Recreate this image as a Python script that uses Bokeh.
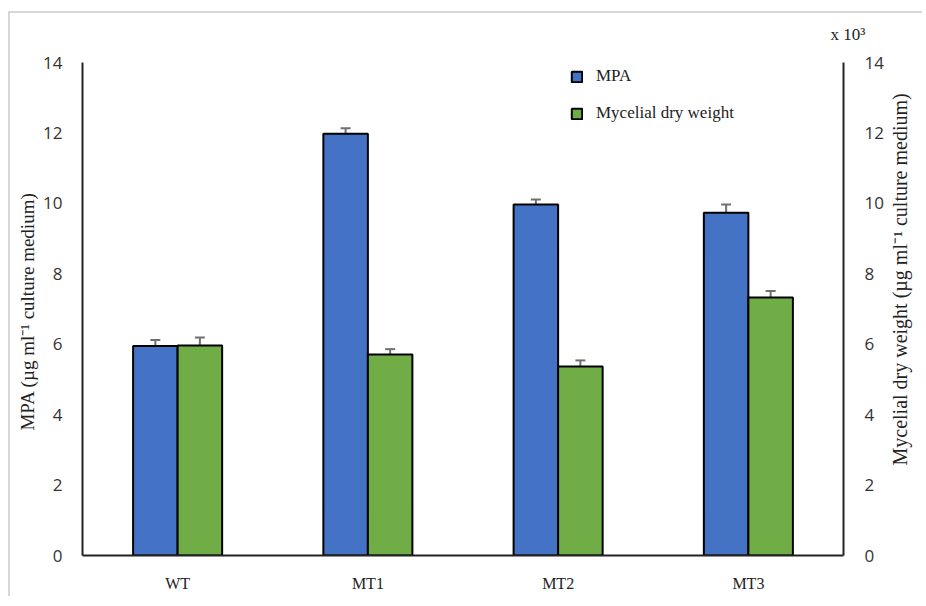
import math
from bokeh.plotting import figure
from bokeh.models import (ColumnDataSource, FactorRange, Range1d, LinearAxis, FixedTicker,
                          Whisker, TeeHead, Legend, LegendItem, Title)
from bokeh.transform import dodge
from bokeh.embed import file_html
from bokeh.resources import INLINE

# ---- data ----
strains = ["WT", "MT1", "MT2", "MT3"]
mpa = [5.95, 11.98, 9.97, 9.73]
mpa_err = [0.17, 0.15, 0.14, 0.24]
dry_weight = [5.96, 5.71, 5.37, 7.33]
dry_weight_err = [0.23, 0.15, 0.17, 0.18]
y_ticks = [0, 2, 4, 6, 8, 10, 12, 14]

BLUE = "#4472C4"
GREEN = "#70AD47"
ERR = "#707070"

src = ColumnDataSource(dict(
    cat=strains,
    mpa=mpa,
    mpa_up=[v + e for v, e in zip(mpa, mpa_err)],
    mpa_lo=[v - e for v, e in zip(mpa, mpa_err)],
    dw=dry_weight,
    dw_up=[v + e for v, e in zip(dry_weight, dry_weight_err)],
    dw_lo=[v - e for v, e in zip(dry_weight, dry_weight_err)],
))

p = figure(width=914, height=585, output_backend="svg", toolbar_location=None,
           x_range=FactorRange(factors=strains, range_padding=0),
           y_range=Range1d(0, 14),
           min_border_left=72, min_border_right=72, min_border_top=49, min_border_bottom=43,
           styles={"border-left": "2px solid #d6d6d6", "border-top": "2px solid #d6d6d6",
                   "margin-top": "11px", "margin-left": "8px"})
p.outline_line_color = None
p.xgrid.grid_line_color = None
p.ygrid.grid_line_color = None
p.extra_y_ranges = {"right": Range1d(0, 14)}

off = 0.117
bw = 0.234
r1 = p.vbar(x=dodge("cat", -off, range=p.x_range), top="mpa", width=bw, source=src,
            fill_color=BLUE, line_color="black", line_width=2)
r2 = p.vbar(x=dodge("cat", off, range=p.x_range), top="dw", width=bw, source=src,
            fill_color=GREEN, line_color="black", line_width=2)

for base_off, up, lo in [(-off, "mpa_up", "mpa_lo"), (off, "dw_up", "dw_lo")]:
    w = Whisker(source=src, base=dodge("cat", base_off, range=p.x_range), upper=up, lower=lo,
                line_color=ERR, line_width=2,
                upper_head=TeeHead(size=10, line_color=ERR, line_width=2),
                lower_head=TeeHead(size=10, line_color=ERR, line_width=2))
    p.add_layout(w)

# left axis
ax = p.yaxis[0]
ax.ticker = FixedTicker(ticks=y_ticks)
ax.major_tick_line_color = None
ax.minor_tick_line_color = None
ax.axis_line_color = "#222222"
ax.axis_line_width = 2
ax.major_label_text_font = "Open Sans"
ax.major_label_text_font_size = "17px"
ax.major_label_text_color = "#333333"
ax.major_label_standoff = 14
ax.axis_label = "MPA (\u00b5g ml\u207b\u00b9  culture medium)"
ax.axis_label_text_font = "Liberation Serif"
ax.axis_label_text_font_style = "normal"
ax.axis_label_text_font_size = "19px"
ax.axis_label_text_color = "#222222"
ax.axis_label_standoff = 2

# right axis (label reads bottom-to-top, starting near the "4" tick)
rax = LinearAxis(y_range_name="right", ticker=FixedTicker(ticks=y_ticks))
rax.major_tick_line_color = None
rax.minor_tick_line_color = None
rax.axis_line_color = "#222222"
rax.axis_line_width = 2
rax.major_label_text_font = "Open Sans"
rax.major_label_text_font_size = "17px"
rax.major_label_text_color = "#333333"
rax.major_label_standoff = 15
rax.axis_label_orientation = math.pi / 2
if "axis_label_align" in rax.properties():
    rax.axis_label_align = "start"
    rax.axis_label = "\u00a0" * 18 + "Mycelial dry weight  (\u00b5g ml\u207b\u00b9  culture medium)"
else:
    rax.axis_label = "Mycelial dry weight  (\u00b5g ml\u207b\u00b9  culture medium)"
    rax.axis_label_orientation = "parallel"
rax.axis_label_text_font = "Liberation Serif"
rax.axis_label_text_font_style = "normal"
rax.axis_label_text_font_size = "20px"
rax.axis_label_text_color = "#222222"
rax.axis_label_standoff = 13
p.add_layout(rax, "right")

# bottom axis
xa = p.xaxis[0]
xa.major_tick_line_color = None
xa.minor_tick_line_color = None
xa.axis_line_color = "#222222"
xa.axis_line_width = 2
xa.major_label_text_font = "Liberation Serif"
xa.major_label_text_font_size = "16px"
xa.major_label_text_color = "#222222"
xa.major_label_standoff = 13

# scale note at the top right (second empty line lifts it above the frame)
note = Title(text="x 10\u00b3\n\u00a0", align="left", offset=748, standoff=0,
             text_font="Liberation Serif", text_font_size="17px",
             text_font_style="normal", text_color="#222222")
p.add_layout(note, "above")

legend = Legend(items=[LegendItem(label="MPA", renderers=[r1]),
                       LegendItem(label="Mycelial dry weight", renderers=[r2])],
                location=(488, 432), orientation="vertical")
legend.background_fill_alpha = 0
legend.border_line_alpha = 0
legend.padding = 0
legend.margin = 0
legend.spacing = 17
legend.label_height = 20
legend.glyph_height = 13
legend.glyph_width = 13
legend.label_standoff = 13
legend.label_text_font = "Liberation Serif"
legend.label_text_font_size = "17px"
legend.label_text_color = "#222222"
p.add_layout(legend)

open("out.html", "w").write(file_html(p, INLINE))
